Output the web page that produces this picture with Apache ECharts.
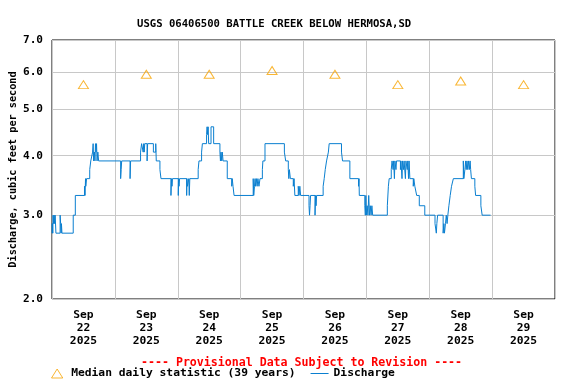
<!DOCTYPE html>
<html>
<head>
<meta charset="utf-8">
<script src="https://cdn.jsdelivr.net/npm/echarts@6/dist/echarts.min.js"></script>
<style>
  html, body { margin: 0; padding: 0; background: #fff; }
  #chart { width: 576px; height: 384px; }
</style>
</head>
<body>
<div id="chart"></div>
<script>
// USGS 06406500 - discharge, Sep 22-29 2025
var dayLabels = ['Sep\n22\n2025', 'Sep\n23\n2025', 'Sep\n24\n2025', 'Sep\n25\n2025',
                 'Sep\n26\n2025', 'Sep\n27\n2025', 'Sep\n28\n2025', 'Sep\n29\n2025'];
var medianValues = [5.64, 5.93, 5.93, 6.04, 5.93, 5.64, 5.74, 5.64];
var yTicks = [2, 3, 4, 5, 6, 7];

// discharge: [hours since Sep 22 00:00, cfs], value holds until next entry
var dischargeSteps = [
  [0, 2.88], [0.1, 2.75], [0.2, 2.88], [0.3, 2.75], [0.4, 3.0], [0.6, 2.88], [0.8, 3.0], [1.0, 2.88],
  [1.2, 3.0], [1.5, 2.75], [3.1, 3.0], [3.3, 2.88], [3.5, 2.75], [3.6, 2.88], [3.8, 2.75],
  [8.1, 3.0], [8.9, 3.30], [12.4, 3.45], [12.6, 3.30], [12.8, 3.58], [12.9, 3.45], [13.2, 3.58],
  [14.4, 3.74], [14.8, 3.90], [15.5, 4.07], [15.7, 4.24], [15.9, 3.90], [16.2, 4.07], [16.4, 3.90],
  [16.6, 4.24], [16.8, 4.07], [17.0, 4.24], [17.2, 3.90], [17.5, 4.07], [17.8, 3.90],
  [26.2, 3.58], [26.4, 3.74], [26.6, 3.90], [29.8, 3.58], [30.0, 3.90],
  [33.8, 4.07], [34.2, 4.24], [34.8, 4.07], [35.0, 4.24], [35.2, 4.07], [35.4, 4.24],
  [36.3, 3.90], [36.5, 4.24], [38.7, 4.07], [39.6, 4.24], [39.8, 3.90], [41.2, 3.74], [41.6, 3.58],
  [45.4, 3.30], [45.6, 3.58], [45.8, 3.45], [46.0, 3.58],
  [48.2, 3.30], [48.3, 3.58], [48.5, 3.45], [48.7, 3.58],
  [51.4, 3.30], [51.5, 3.58], [51.7, 3.45], [52.2, 3.58], [52.4, 3.30], [52.6, 3.58],
  [55.8, 3.74], [56.1, 3.90], [57.1, 4.07], [57.4, 4.24], [59.0, 4.43], [59.2, 4.60], [59.4, 4.43],
  [59.6, 4.60], [59.8, 4.24], [60.7, 4.60], [61.7, 4.24],
  [64.1, 4.07], [64.3, 3.90], [64.5, 4.07], [64.8, 3.90], [65.0, 4.07], [65.3, 3.90],
  [66.9, 3.58], [68.6, 3.45], [68.8, 3.58], [69.1, 3.45], [69.5, 3.30],
  [76.8, 3.58], [77.0, 3.30], [77.3, 3.45], [77.5, 3.58], [77.7, 3.45], [78.0, 3.58], [78.3, 3.45],
  [78.6, 3.58], [79.0, 3.45], [79.4, 3.58], [80.3, 3.74], [80.5, 3.90], [81.3, 4.24],
  [88.7, 4.07], [89.2, 3.90], [90.2, 3.74], [90.4, 3.58], [90.6, 3.74], [91.0, 3.58],
  [92.1, 3.45], [92.4, 3.58], [92.7, 3.30], [94.0, 3.45], [94.3, 3.30], [94.6, 3.45], [94.9, 3.30],
  [98.1, 3.14], [98.3, 3.0], [98.5, 3.14], [98.7, 3.30], [100.4, 3.0], [100.6, 3.30], [100.8, 3.14], [101.0, 3.30],
  [103.5, 3.45], [103.9, 3.58], [104.3, 3.74], [104.8, 3.90], [105.5, 4.07], [105.8, 4.24],
  [110.5, 4.07], [110.9, 3.90], [113.7, 3.58], [117.0, 3.45], [117.2, 3.58], [117.3, 3.30],
  [119.4, 3.14], [119.6, 3.0], [119.8, 3.30], [120.0, 3.0], [120.3, 3.14], [120.6, 3.0], [120.9, 3.30],
  [121.2, 3.0], [121.5, 3.14], [121.8, 3.0], [122.1, 3.14], [122.4, 3.0],
  [128.0, 3.14], [128.4, 3.45], [128.7, 3.58], [129.5, 3.74], [129.8, 3.90],
  [130.2, 3.74], [130.4, 3.90], [130.7, 3.58], [130.9, 3.90], [131.3, 3.74], [131.5, 3.90],
  [133.0, 3.74], [133.2, 3.90], [133.6, 3.58], [133.8, 3.90], [134.2, 3.74], [134.4, 3.90],
  [134.9, 3.58], [135.1, 3.90], [135.6, 3.74], [135.8, 3.90], [136.1, 3.58], [136.3, 3.90],
  [136.6, 3.58], [137.9, 3.45], [138.1, 3.58], [138.5, 3.45], [139.2, 3.30], [140.2, 3.14], [142.3, 3.0],
  [146.2, 2.88], [146.7, 2.75], [146.9, 2.88], [147.2, 3.0],
  [149.3, 2.75], [149.6, 2.88], [149.8, 2.75], [150.2, 2.88], [150.5, 3.0], [150.8, 2.88], [151.1, 3.0],
  [151.5, 3.14], [152.0, 3.30], [152.5, 3.45], [153.2, 3.58],
  [157.0, 3.90], [157.2, 3.58], [157.6, 3.74], [157.9, 3.90], [158.1, 3.74], [158.4, 3.90],
  [158.7, 3.74], [159.0, 3.90], [159.3, 3.74], [159.6, 3.90], [159.8, 3.74], [160.1, 3.58],
  [161.4, 3.45], [161.7, 3.30], [163.7, 3.14], [164.2, 3.0], [167.4, 3.0]
];

var monoFont = '"DejaVu Sans Mono", "Liberation Mono", monospace';
var medianColor = '#f7a400';
var flowColor = '#0a7fd0';
var chart = echarts.init(document.getElementById('chart'), null, {renderer: 'canvas'});

var option = {
  animation: false,
  backgroundColor: '#fff',
  title: [{
    text: 'USGS 06406500 BATTLE CREEK BELOW HERMOSA,SD',
    left: 132, top: 14,
    textStyle: {fontFamily: monoFont, fontSize: 10.6, fontWeight: 'bold', color: '#000'}
  }, {
    text: '---- Provisional Data Subject to Revision ----',
    left: 136, top: 352,
    textStyle: {fontFamily: monoFont, fontSize: 11.6, fontWeight: 'bold', color: '#ff0000'}
  }],
  legend: {
    left: 51, top: 368, padding: 0,
    itemWidth: 18, itemHeight: 9, itemGap: 15,
    symbolKeepAspect: true,
    textStyle: {fontFamily: monoFont, fontSize: 11.3, fontWeight: 'bold', color: '#000'},
    data: [
      {name: 'Median daily statistic (39 years)', icon: 'path://M5,0 L10,8 L0,8 Z',
       itemStyle: {color: 'rgba(0,0,0,0)', borderColor: medianColor, borderWidth: 1}},
      {name: 'Discharge', icon: 'path://M0,0 L18,0 L18,1 L0,1 Z',
       itemStyle: {color: flowColor, borderWidth: 0}}
    ]
  },
  grid: {
    left: 52, right: 21, top: 40, bottom: 85,
    outerBoundsMode: 'none', containLabel: false,
    show: true, borderColor: '#000', borderWidth: 1
  },
  xAxis: [{
    type: 'value', min: 0, max: 192, interval: 24,
    axisLine: {show: false}, axisTick: {show: false}, axisLabel: {show: false},
    splitLine: {show: true, lineStyle: {color: '#c8c8c8', width: 1}}
  }, {
    type: 'category', position: 'bottom', boundaryGap: true, data: dayLabels,
    axisLine: {show: false}, axisTick: {show: false}, splitLine: {show: false},
    axisLabel: {interval: 0, margin: 10, lineHeight: 13,
      fontFamily: monoFont, fontSize: 11.3, fontWeight: 'bold', color: '#000'}
  }],
  yAxis: {
    type: 'log', logBase: 10, min: 2, max: 7,
    name: 'Discharge, cubic feet per second',
    nameLocation: 'middle', nameGap: 34, nameRotate: 90, nameMoveOverlap: false,
    nameTextStyle: {fontFamily: monoFont, fontSize: 10.2, fontWeight: 'bold', color: '#000'},
    axisLine: {show: false},
    axisTick: {show: false, customValues: yTicks},
    axisLabel: {customValues: yTicks, margin: 9,
      fontFamily: monoFont, fontSize: 11.1, fontWeight: 'bold', color: '#000',
      formatter: function (v) { return Number(v).toFixed(1); }},
    splitLine: {show: true, lineStyle: {color: '#c8c8c8', width: 1}}
  },
  series: [{
    name: 'Median daily statistic (39 years)',
    type: 'scatter', xAxisIndex: 1,
    symbol: 'triangle', symbolSize: [10, 8],
    itemStyle: {color: 'rgba(0,0,0,0)', borderColor: medianColor, borderWidth: 1},
    data: medianValues, z: 3
  }, {
    name: 'Discharge',
    type: 'line', xAxisIndex: 0, step: 'end',
    symbol: 'none', showSymbol: false,
    lineStyle: {color: flowColor, width: 1},
    itemStyle: {color: flowColor},
    data: dischargeSteps.map(function (d) { return [d[0], d[1]]; }),
    z: 2
  }]
};

chart.setOption(option);
</script>
</body>
</html>
